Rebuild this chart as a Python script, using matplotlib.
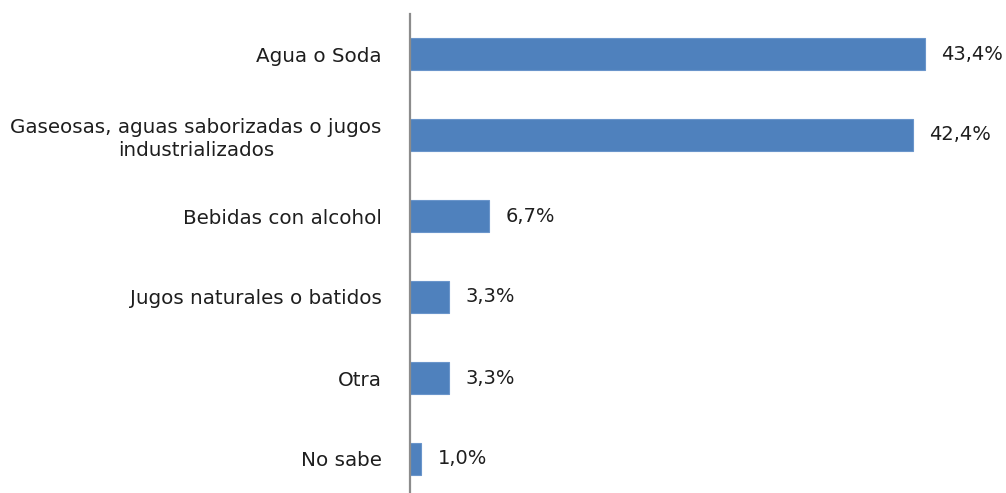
import matplotlib.pyplot as plt

categorias = ["Agua o Soda",
              "Gaseosas, aguas saborizadas o jugos\nindustrializados",
              "Bebidas con alcohol",
              "Jugos naturales o batidos",
              "Otra",
              "No sabe"]
valores = [43.4, 42.4, 6.7, 3.3, 3.3, 1.0]

plt.rcParams['font.family'] = ['DejaVu Sans']

fig = plt.figure(figsize=(10.06, 4.93), dpi=100)
ax = fig.add_axes([409.5 / 1006, -6.5 / 493, 596.5 / 1006, 486 / 493])

pos = list(range(len(categorias)))
ax.barh(pos, valores, height=0.4, color='#4F81BD', edgecolor='#6A95CB', linewidth=0.8)

for p, v in zip(pos, valores):
    etiqueta = f"{v:.1f}%".replace('.', ',')
    ax.annotate(etiqueta, (v, p), xytext=(12, 0), textcoords='offset points',
                va='center', ha='left', fontsize=14, color='#1E1E1E')

ax.set_yticks(pos)
ax.set_yticklabels(categorias, fontsize=14.3, color='#1E1E1E',
                   multialignment='center', linespacing=1.25)
ax.set_ylim(len(categorias) - 0.5, -0.5)
ax.set_xlim(0, 50.25)
ax.tick_params(axis='y', length=0, pad=20)
ax.set_xticks([])

for s in ['top', 'right', 'bottom']:
    ax.spines[s].set_visible(False)
ax.spines['left'].set_color('#8C8C8C')
ax.spines['left'].set_linewidth(1.6)

fig.savefig('out.png', dpi=100)
